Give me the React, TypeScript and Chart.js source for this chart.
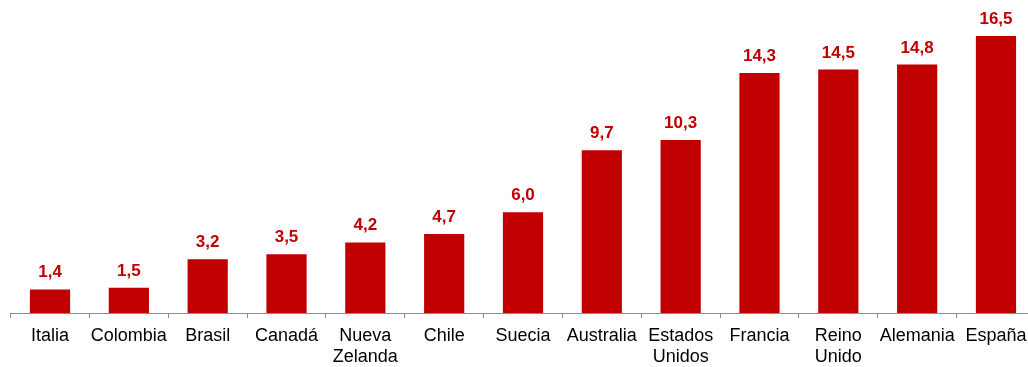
import React, { useEffect, useRef } from "react";
import { Chart, registerables } from "chart.js";

Chart.register(...registerables);

const categories: (string | string[])[] = [
  "Italia",
  "Colombia",
  "Brasil",
  "Canadá",
  ["Nueva", "Zelanda"],
  "Chile",
  "Suecia",
  "Australia",
  ["Estados", "Unidos"],
  "Francia",
  ["Reino", "Unido"],
  "Alemania",
  "España",
];

const values: number[] = [1.4, 1.5, 3.2, 3.5, 4.2, 4.7, 6.0, 9.7, 10.3, 14.3, 14.5, 14.8, 16.5];

const BAR_COLOR = "#C00000";

const valueLabels = {
  id: "valueLabels",
  afterDatasetsDraw(chart: any) {
    const ctx = chart.ctx;
    const meta = chart.getDatasetMeta(0);
    ctx.save();
    ctx.fillStyle = BAR_COLOR;
    ctx.font = "bold 17px 'Liberation Sans', Arial, sans-serif";
    ctx.textAlign = "center";
    ctx.textBaseline = "alphabetic";
    meta.data.forEach((bar: any, i: number) => {
      const txt = values[i].toFixed(1).replace(".", ",");
      ctx.fillText(txt, bar.x, bar.y - 12);
    });
    ctx.restore();
  },
};

export default function App() {
  const ref = useRef<HTMLCanvasElement | null>(null);

  useEffect(() => {
    if (!ref.current) return;
    const chart = new Chart(ref.current, {
      type: "bar",
      data: {
        labels: categories,
        datasets: [
          {
            data: values,
            backgroundColor: BAR_COLOR,
            borderWidth: 0,
            categoryPercentage: 1,
            barPercentage: 0.51,
          },
        ],
      },
      options: {
        responsive: false,
        animation: false,
        devicePixelRatio: 1,
        layout: { padding: { left: 10.6, right: 4.6, top: 10.8, bottom: 0 } },
        plugins: {
          legend: { display: false },
          tooltip: { enabled: false },
          title: { display: false },
        },
        scales: {
          x: {
            grid: {
              offset: true,
              drawOnChartArea: false,
              drawTicks: true,
              tickLength: 5,
              color: "#8c8c8c",
            },
            border: { display: true, color: "#8c8c8c", width: 1 },
            ticks: {
              color: "#000000",
              font: { family: "'Liberation Sans', Arial, sans-serif", size: 18, lineHeight: 1.15 },
              padding: 8,
              maxRotation: 0,
              autoSkip: false,
            },
            afterFit: (axis: any) => {
              axis.height = 54;
            },
          },
          y: {
            display: false,
            min: 0,
            max: 18,
          },
        },
      },
      plugins: [valueLabels],
    });
    return () => chart.destroy();
  }, []);

  return (
    <div
      style={{
        position: "fixed",
        left: 0,
        top: 0,
        width: 1028,
        height: 367,
        overflow: "hidden",
        background: "#ffffff",
      }}
    >
      <canvas ref={ref} width={1040} height={367} style={{ width: 1040, height: 367, display: "block" }} />
    </div>
  );
}
